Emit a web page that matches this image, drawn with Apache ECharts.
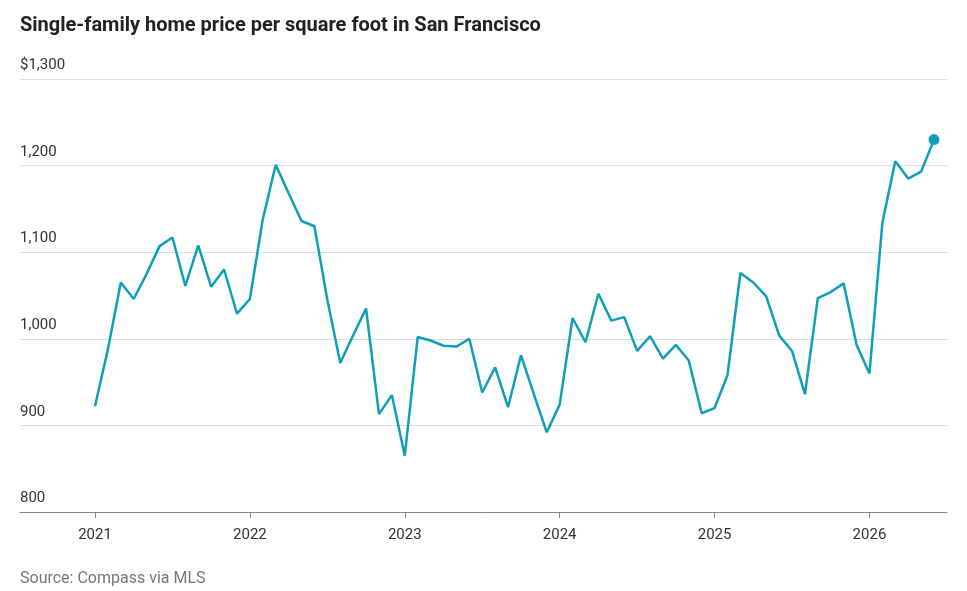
<!DOCTYPE html>
<html>
<head>
<meta charset="utf-8">
<title>SF price per sq ft</title>
<script src="https://cdn.jsdelivr.net/npm/echarts@6/dist/echarts.min.js"></script>
<style>body{margin:0;background:#fff}</style>
</head>
<body>
<div id="main" style="width:967px;height:591px;"></div>
<script type="text/javascript">
// monthly, Jan 2021 - Jun 2026
var months = [];
for (var y = 2021; y <= 2026; y++) {
	for (var m = 1; m <= 12; m++) {
		if (y === 2026 && m > 6) break;
		months.push(y + '-' + (m < 10 ? '0' + m : m));
	}
}
var prices = [
	922, 988, 1065, 1046, 1075, 1107, 1117, 1061, 1108, 1060, 1080, 1029,
	1046, 1138, 1201, 1168, 1136, 1130, 1045, 972, 1004, 1035, 913, 935,
	865, 1002, 998, 992, 991, 1000, 938, 967, 921, 981, 936, 892,
	924, 1024, 996, 1052, 1021, 1025, 986, 1003, 977, 993, 975, 914,
	920, 958, 1076, 1065, 1049, 1004, 986, 936, 1047, 1054, 1064, 993,
	960, 1134, 1205, 1185, 1193, 1230
];
var yTicks = [800, 900, 1000, 1100, 1200, 1300];

var chart = echarts.init(document.getElementById('main'));
var lastIdx = prices.length - 1;
var font = 'Roboto';
var option = {
	animation: false,
	title: [{
		text: 'Single-family home price per square foot in San Francisco',
		left: 15, top: 11,
		textStyle: { fontFamily: font, fontSize: 20, fontWeight: 'bold', color: '#222' }
	}, {
		text: 'Source: Compass via MLS',
		left: 15, top: 566,
		textStyle: { fontFamily: font, fontSize: 16, fontWeight: 'normal', color: '#777' }
	}],
	grid: [
		{ left: 20, right: 20, top: 79, bottom: 79 },   // background: gridlines + labels
		{ left: 95, right: 33, top: 79, bottom: 79 }    // data
	],
	xAxis: [{
		gridIndex: 0, type: 'value', min: 0, max: 1,
		axisLine: { show: true, onZero: false, lineStyle: { color: '#888', width: 1 } },
		axisTick: { show: false }, axisLabel: { show: false }, splitLine: { show: false }
	}, {
		gridIndex: 1,
		type: 'category',
		data: months,
		boundaryGap: false,
		axisLine: { show: false },
		axisTick: {
			alignWithLabel: true,
			length: 6,
			lineStyle: { color: '#888' },
			interval: function (i, v) { return v.slice(5) === '01'; }
		},
		axisLabel: {
			margin: 16,
			fontFamily: font, fontSize: 15, color: '#333',
			interval: function (i, v) { return v.slice(5) === '01'; },
			formatter: function (v) { return v.slice(0, 4); }
		}
	}],
	yAxis: [{
		gridIndex: 0,
		type: 'value',
		min: yTicks[0], max: yTicks[yTicks.length - 1], interval: 100,
		axisLine: { show: false },
		axisTick: { show: false },
		splitLine: { lineStyle: { color: '#ddd' } },
		axisLabel: {
			inside: true,
			verticalAlign: 'bottom',
			margin: 0,
			padding: [0, 0, 6, 0],
			fontFamily: font, fontSize: 15, color: '#333',
			formatter: function (v) {
				var s = v.toLocaleString('en-US');
				return v === 1300 ? '$' + s : s;
			}
		}
	}, {
		gridIndex: 1,
		type: 'value',
		min: yTicks[0], max: yTicks[yTicks.length - 1], interval: 100,
		show: false
	}],
	series: [{
		type: 'line',
		xAxisIndex: 1, yAxisIndex: 1,
		data: prices,
		symbol: 'circle',
		symbolSize: function (v, p) { return p.dataIndex === lastIdx ? 11 : 0; },
		showAllSymbol: true,
		lineStyle: { color: '#0f9fb8', width: 2.5 },
		itemStyle: { color: '#0f9fb8' }
	}]
};
chart.setOption(option);
</script>
</body>
</html>
